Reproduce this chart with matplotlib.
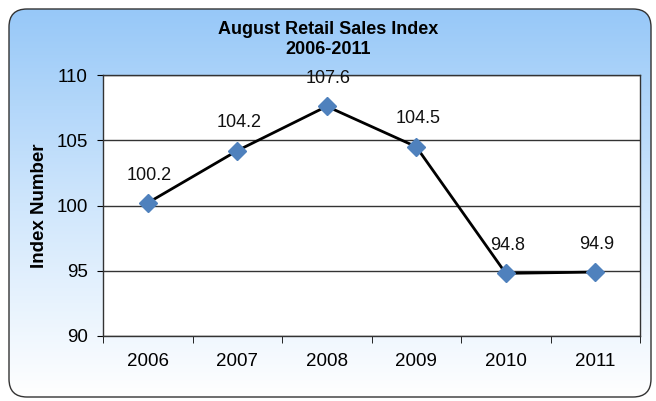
import numpy as np
import matplotlib.pyplot as plt
from matplotlib.patches import FancyBboxPatch
from matplotlib.colors import LinearSegmentedColormap

plt.rcParams["font.family"] = ["Liberation Sans", "DejaVu Sans"]

years = ["2006", "2007", "2008", "2009", "2010", "2011"]
index_values = [100.2, 104.2, 107.6, 104.5, 94.8, 94.9]
label_texts = ["100.2", "104.2", "107.6", "104.5", "94.8", "94.9"]

fig = plt.figure(figsize=(6.56, 4.01), dpi=100)
fig.patch.set_facecolor("white")

# gradient background inside a rounded frame
bg = fig.add_axes([0, 0, 1, 1], zorder=0)
bg.set_xlim(0, 656)
bg.set_ylim(401, 0)
bg.axis("off")
cmap = LinearSegmentedColormap.from_list("bg", ["#97C8F8", "#CFE6FC", "#FFFFFF"])
grad = np.linspace(0, 1, 256).reshape(-1, 1)
frame = FancyBboxPatch((9, 9), 642, 388, boxstyle="round,pad=0,rounding_size=18",
                       facecolor="none", edgecolor="#333333", linewidth=1.0)
bg.add_patch(frame)
im = bg.imshow(grad, cmap=cmap, extent=(9, 651, 397, 9), aspect="auto")
im.set_clip_path(frame)

ax = fig.add_axes([103 / 656, 1 - 336 / 401, 537 / 656, 261 / 401], zorder=1)
ax.set_facecolor("white")
x = np.arange(len(years))
ax.plot(x, index_values, color="black", linewidth=2, zorder=3)
ax.plot(x, index_values, linestyle="none", marker="D", markersize=9,
        color="#4F81BD", zorder=4)

for xi, v, t in zip(x, index_values, label_texts):
    ax.annotate(t, (xi, v), textcoords="offset points", xytext=(1, 20),
                ha="center", va="center", fontsize=13, color="#111111")

ax.set_xlim(-0.5, len(years) - 0.5)
ax.set_ylim(90, 110)
ax.set_yticks([90, 95, 100, 105, 110])
ax.set_xticks(x)
ax.set_xticklabels(years)
ax.set_xticks(np.arange(len(years) + 1) - 0.5, minor=True)
ax.tick_params(axis="x", which="major", length=0, pad=12, labelsize=13.5)
ax.tick_params(axis="x", which="minor", length=5, direction="out")
ax.tick_params(axis="y", length=4, direction="out", labelsize=13.5, pad=7)
ax.yaxis.grid(True, color="#333333", linewidth=1)
ax.set_axisbelow(True)
for s in ax.spines.values():
    s.set_color("#333333")
    s.set_linewidth(1)

ax.set_ylabel("Index Number", fontsize=13.5, fontweight="bold", labelpad=6)

fig.text(0.5, 1 - 29 / 401, "August Retail Sales Index", ha="center",
         va="center", fontsize=13, fontweight="bold")
fig.text(0.5, 1 - 50 / 401, "2006-2011", ha="center",
         va="center", fontsize=13, fontweight="bold")

fig.savefig("out.png", dpi=100)
